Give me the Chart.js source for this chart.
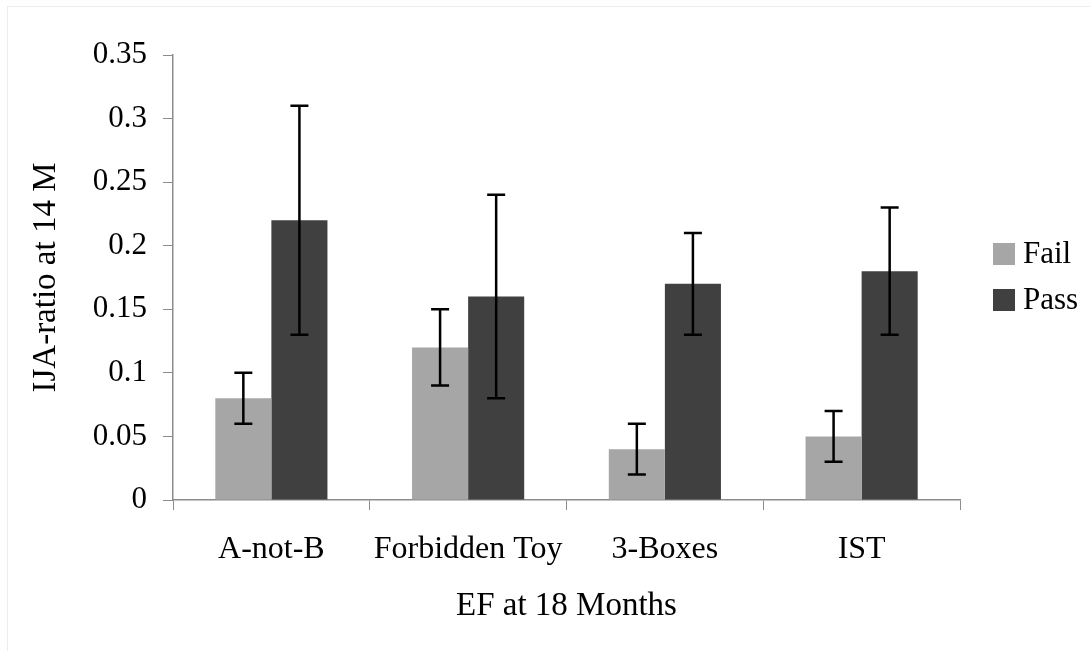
<!DOCTYPE html>
<html>
<head>
<meta charset="utf-8">
<script src="https://cdn.jsdelivr.net/npm/chart.js@4"></script>
<style>
  html, body { margin: 0; padding: 0; background: #fff; }
  #wrap { width: 1090px; height: 651px; position: relative; }
  #frame { position: absolute; left: 7px; top: 6px; width: 1100px; height: 700px;
           border-left: 1px solid #ececec; border-top: 1px solid #ececec; }
</style>
</head>
<body>
<div id="wrap">
  <div id="frame"></div>
  <canvas id="chart" width="1090" height="651"></canvas>
</div>
<script>
// Data
const categories = ['A-not-B', 'Forbidden Toy', '3-Boxes', 'IST'];
const failValues = [0.08, 0.12, 0.04, 0.05];
const passValues = [0.22, 0.16, 0.17, 0.18];
const failLow = [0.06, 0.09, 0.02, 0.03];
const failHigh = [0.10, 0.15, 0.06, 0.07];
const passLow = [0.13, 0.08, 0.13, 0.13];
const passHigh = [0.31, 0.24, 0.21, 0.23];
const yTicks = [0, 0.05, 0.1, 0.15, 0.2, 0.25, 0.3, 0.35];

const FONT = 'Liberation Serif, Times New Roman, serif';
const AXIS = '#8c8c8c';

// Draw error bars using the chart's own scales
const errorBars = {
  id: 'errorBars',
  afterDatasetsDraw(chart) {
    const ctx = chart.ctx;
    const y = chart.scales.y;
    chart.data.datasets.forEach((ds, i) => {
      const meta = chart.getDatasetMeta(i);
      meta.data.forEach((bar, j) => {
        const top = y.getPixelForValue(ds.errHigh[j]);
        const bot = y.getPixelForValue(ds.errLow[j]);
        const cap = 9;
        ctx.save();
        ctx.strokeStyle = '#000';
        ctx.lineWidth = 2.5;
        ctx.beginPath();
        ctx.moveTo(bar.x, top); ctx.lineTo(bar.x, bot);
        ctx.moveTo(bar.x - cap, top); ctx.lineTo(bar.x + cap, top);
        ctx.moveTo(bar.x - cap, bot); ctx.lineTo(bar.x + cap, bot);
        ctx.stroke();
        ctx.restore();
      });
    });
  }
};

// Legend on the right
const sideLegend = {
  id: 'sideLegend',
  afterDraw(chart) {
    const ctx = chart.ctx;
    const x = 993;
    const rows = [243, 289];
    chart.data.datasets.forEach((ds, i) => {
      ctx.save();
      ctx.fillStyle = ds.backgroundColor;
      ctx.fillRect(x, rows[i], 22, 22);
      ctx.fillStyle = '#000';
      ctx.font = '31px ' + FONT;
      ctx.textBaseline = 'middle';
      ctx.fillText(ds.label, x + 30, rows[i] + 12);
      ctx.restore();
    });
  }
};

new Chart(document.getElementById('chart'), {
  type: 'bar',
  data: {
    labels: categories,
    datasets: [
      { label: 'Fail', data: failValues, errLow: failLow, errHigh: failHigh,
        backgroundColor: '#a6a6a6', categoryPercentage: 0.57, barPercentage: 1.0 },
      { label: 'Pass', data: passValues, errLow: passLow, errHigh: passHigh,
        backgroundColor: '#404040', categoryPercentage: 0.57, barPercentage: 1.0 }
    ]
  },
  options: {
    responsive: false,
    animation: false,
    devicePixelRatio: 1,
    layout: { padding: { left: 0, right: 130, top: 55, bottom: 0 } },
    plugins: { legend: { display: false }, tooltip: { enabled: false } },
    scales: {
      x: {
        grid: { display: true, drawOnChartArea: false, tickLength: 10, color: AXIS, offset: true },
        border: { color: AXIS, width: 1.5 },
        ticks: { color: '#000', font: { family: FONT, size: 32 }, padding: 20, maxRotation: 0 },
        title: { display: true, text: 'EF at 18 Months', color: '#000',
                 font: { family: FONT, size: 33 }, padding: { top: 10, bottom: 25 } },
        afterFit(scale) { scale.height = 151; }
      },
      y: {
        min: 0, max: 0.35,
        afterBuildTicks(scale) { scale.ticks = yTicks.map(v => ({ value: v })); },
        grid: { display: true, drawOnChartArea: false, tickLength: 10, color: AXIS },
        border: { color: AXIS, width: 1.5 },
        ticks: { color: '#000', font: { family: FONT, size: 31 }, padding: 16,
                 callback: v => String(v) },
        title: { display: true, text: 'IJA-ratio at 14 M', color: '#000',
                 font: { family: FONT, size: 33 }, padding: { top: 27, bottom: 0 } },
        afterFit(scale) { scale.width = 173; }
      }
    }
  },
  plugins: [errorBars, sideLegend]
});
</script>
</body>
</html>
